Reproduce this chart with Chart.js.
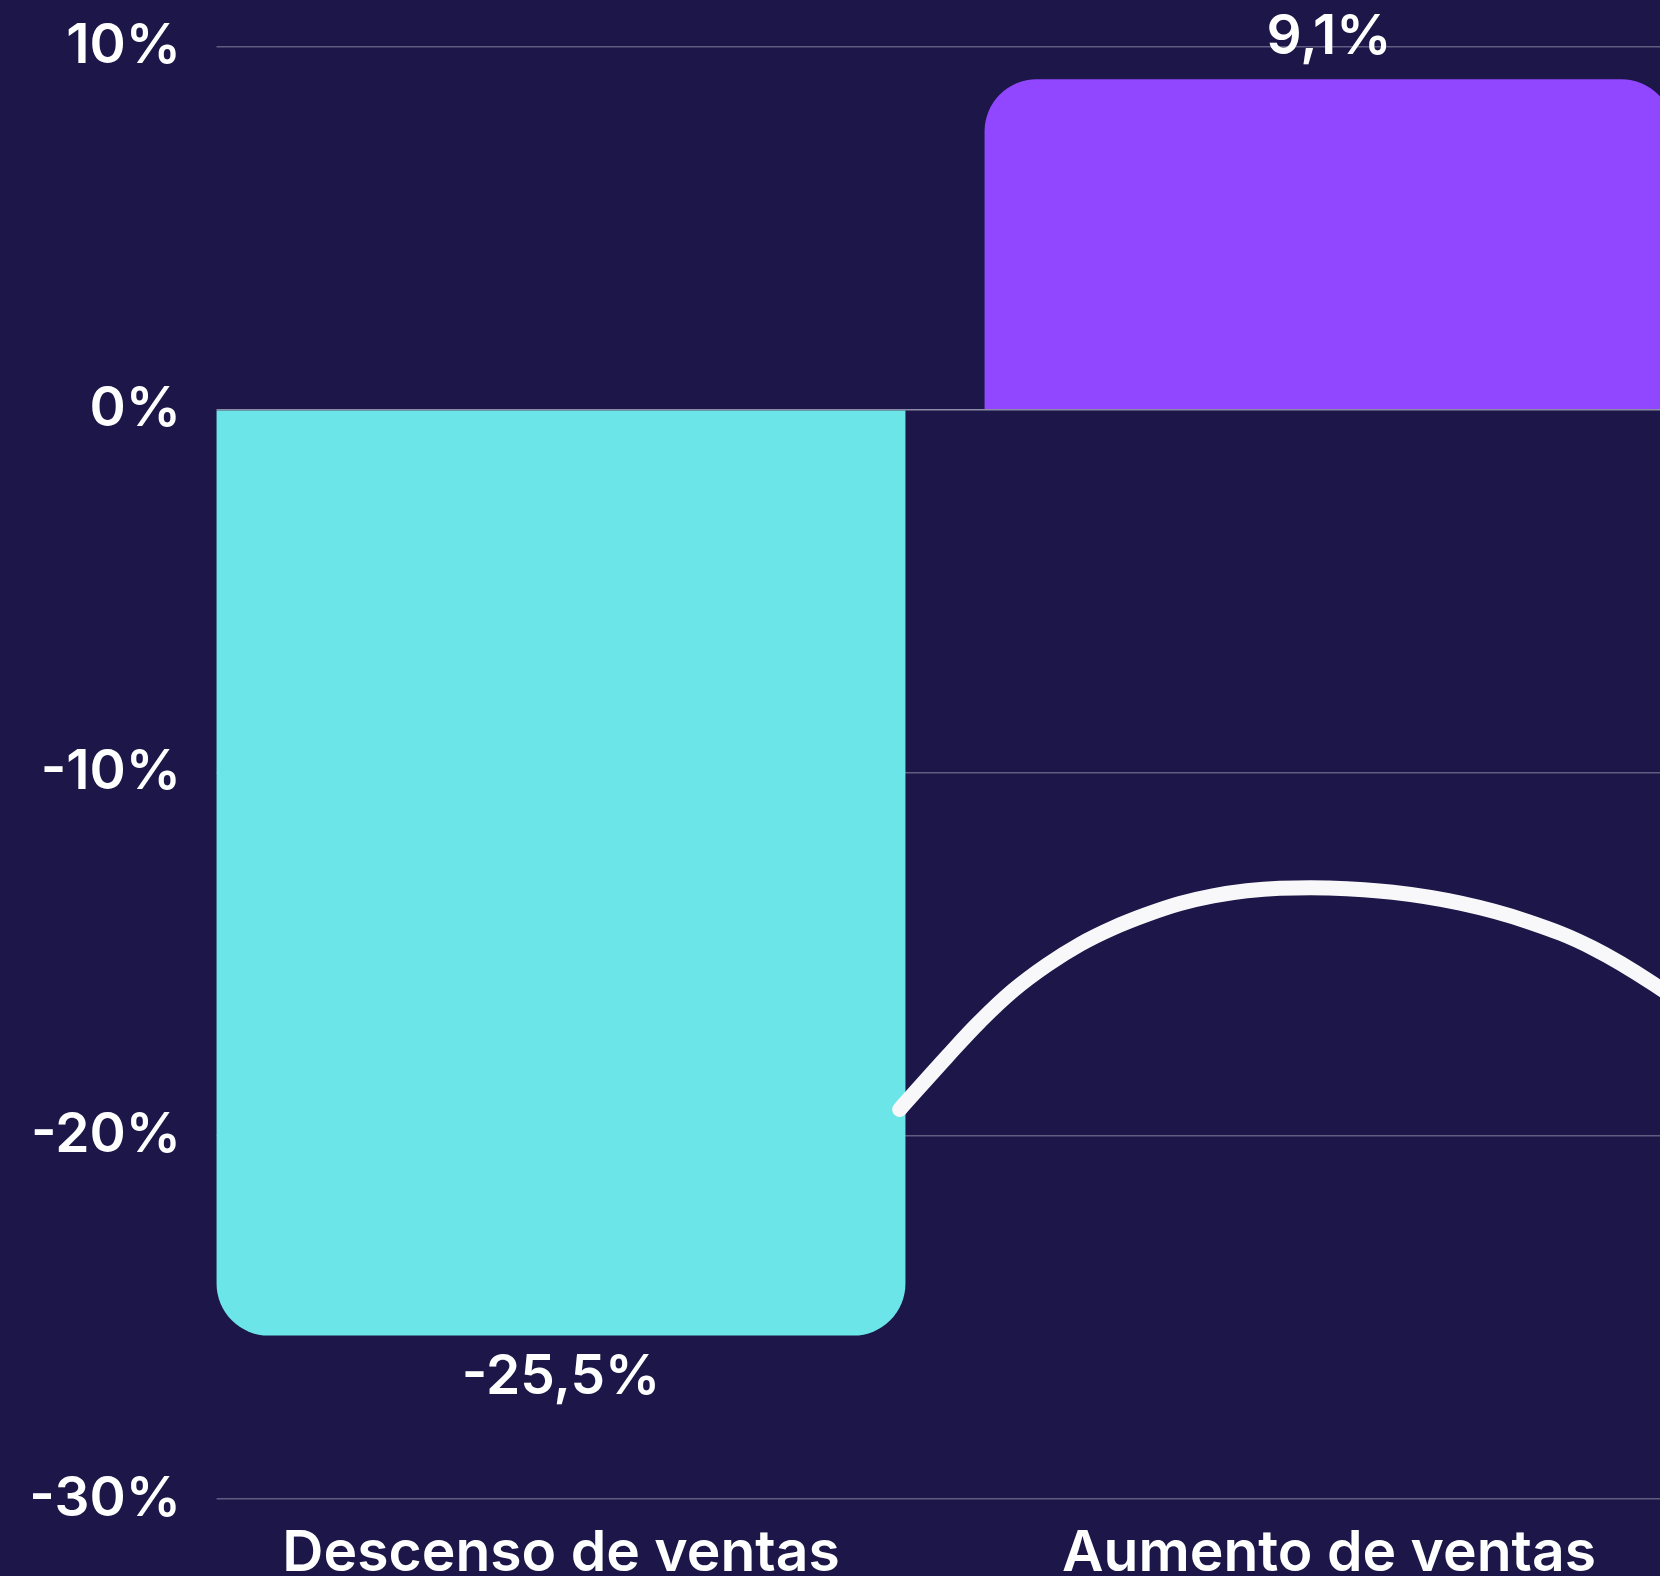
<!DOCTYPE html>
<html lang="es">
<head>
<meta charset="utf-8">
<title>Ventas</title>
<script src="https://cdn.jsdelivr.net/npm/chart.js@4.4.1/dist/chart.umd.min.js"></script>
<style>
  html, body {
    margin: 0;
    padding: 0;
    background: #1d1649;
    overflow: hidden;
  }
  #contenedor {
    position: relative;
    width: 1713px;
    height: 1620px;
  }
</style>
</head>
<body>
<div id="contenedor">
  <canvas id="grafico"></canvas>
</div>
<script>
// Datos
const categorias = ["Descenso de ventas", "Aumento de ventas"];
const valores = [-25.5, 9.1];
const coloresBarras = ["#6ce5e8", "#9146ff"];
const ticksY = [-30, -20, -10, 0, 10];

// Trazo blanco (x en unidades de categoría, y en %)
const curvaX = [0.441, 0.503, 0.546, 0.589, 0.633, 0.676, 0.719, 0.763, 0.806,
  0.849, 0.893, 0.936, 0.997, 1.083, 1.171, 1.258, 1.344, 1.431, 1.5];
const curvaY = [-19.27, -17.81, -16.84, -15.99, -15.29, -14.72, -14.27, -13.9, -13.6,
  -13.39, -13.25, -13.18, -13.17, -13.29, -13.59, -14.09, -14.83, -15.93, -16.98];

const fondo = "#1d1649";
const fuente = "Inter";

function formatoPct(v) {
  return String(v).replace(".", ",") + "%";
}

// Etiquetas de valor sobre / bajo las barras
const etiquetasBarras = {
  id: "etiquetasBarras",
  afterDatasetsDraw(chart) {
    const ctx = chart.ctx;
    const meta = chart.getDatasetMeta(0);
    ctx.save();
    ctx.fillStyle = "#ffffff";
    ctx.font = "600 55px " + fuente;
    ctx.textAlign = "center";
    ctx.textBaseline = "middle";
    meta.data.forEach((bar, i) => {
      const v = valores[i];
      const y = v >= 0 ? bar.y - 42 : bar.y + 42;
      ctx.fillText(formatoPct(v), bar.x, y);
    });
    ctx.restore();
  },
};

// La rejilla empieza en el borde de la primera barra
const recorteRejilla = {
  id: "recorteRejilla",
  beforeDatasetsDraw(chart) {
    const bar = chart.getDatasetMeta(0).data[0];
    const area = chart.chartArea;
    const izq = bar.x - bar.width / 2;
    const ctx = chart.ctx;
    ctx.save();
    ctx.fillStyle = fondo;
    ctx.fillRect(area.left, area.top - 3, izq - area.left, area.bottom - area.top + 6);
    ctx.restore();
  },
};

new Chart(document.getElementById("grafico"), {
  type: "bar",
  data: {
    labels: categorias,
    datasets: [
      {
        label: "Ventas",
        data: valores,
        backgroundColor: coloresBarras,
        borderRadius: 52,
        borderSkipped: "start",
        grouped: false,
        categoryPercentage: 1,
        barPercentage: 0.897,
        order: 2,
      },
      {
        type: "line",
        label: "trazo",
        data: curvaX.map((x, i) => ({ x: x, y: curvaY[i] })),
        xAxisID: "x2",
        borderColor: "#f8f8fa",
        borderWidth: 15,
        borderCapStyle: "round",
        borderJoinStyle: "round",
        tension: 0.4,
        pointRadius: 0,
        fill: false,
        order: 1,
      },
    ],
  },
  options: {
    responsive: true,
    maintainAspectRatio: false,
    animation: false,
    layout: { padding: { top: 46.6, right: 0, bottom: 0, left: 0 } },
    plugins: {
      legend: { display: false },
      tooltip: { enabled: false },
    },
    scales: {
      x: {
        grid: { display: false },
        border: { display: false },
        ticks: {
          color: "#ffffff",
          font: { family: fuente, size: 57, weight: "600" },
          padding: 13,
        },
        afterFit(scale) {
          scale.height = 121;
        },
      },
      x2: {
        type: "linear",
        display: false,
        offset: false,
        grid: { offset: false },
        min: -0.5,
        max: 1.5,
      },
      y: {
        min: ticksY[0],
        max: ticksY[ticksY.length - 1],
        afterBuildTicks(scale) {
          scale.ticks = ticksY.map((v) => ({ value: v }));
        },
        grid: {
          color: (c) => (c.tick && c.tick.value === 0 ? "rgba(255,255,255,0.5)" : "rgba(255,255,255,0.3)"),
          lineWidth: 1.5,
          drawTicks: false,
        },
        border: { display: false },
        ticks: {
          color: "#ffffff",
          font: { family: fuente, size: 55, weight: "600" },
          padding: -4,
          callback: (v) => v + "%",
        },
        afterFit(scale) {
          scale.width = 177;
        },
      },
    },
  },
  plugins: [recorteRejilla, etiquetasBarras],
});
</script>
</body>
</html>
